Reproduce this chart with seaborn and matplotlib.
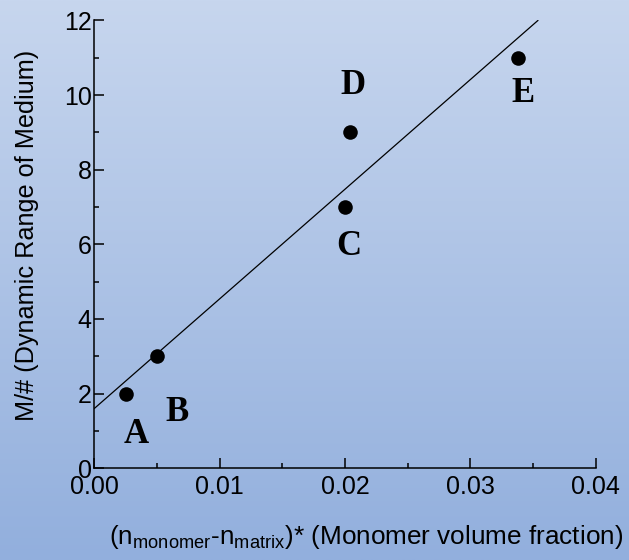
import numpy as np
import pandas as pd
import matplotlib

matplotlib.use("Agg")
import matplotlib.pyplot as plt
import seaborn as sns
from matplotlib.colors import LinearSegmentedColormap
from matplotlib.ticker import MultipleLocator

# datos
muestras = ["A", "B", "C", "D", "E"]
delta_n = [0.0025, 0.0050, 0.0200, 0.0204, 0.0338]
m_numero = [2, 3, 7, 9, 11]

# recta de ajuste (extremos)
ajuste_x = [0.0, 0.0354]
ajuste_y = [1.6, 12.0]

# posicion de las letras
letra_x = [0.0033, 0.0066, 0.0203, 0.0206, 0.0342]
letra_y = [0.9, 1.48, 5.95, 10.25, 10.04]

x_ticks = [0.00, 0.01, 0.02, 0.03, 0.04]
y_ticks = [0, 2, 4, 6, 8, 10, 12]

sns.set_style("ticks")
plt.rcParams["font.family"] = ["Liberation Sans", "DejaVu Sans"]
plt.rcParams["mathtext.fontset"] = "custom"
plt.rcParams["mathtext.rm"] = "Liberation Sans"
plt.rcParams["text.color"] = "black"
plt.rcParams["axes.labelcolor"] = "black"
plt.rcParams["xtick.color"] = "black"
plt.rcParams["ytick.color"] = "black"

fig = plt.figure(figsize=(6.29, 5.6), dpi=100)

# fondo degradado
fondo = fig.add_axes([0, 0, 1, 1], zorder=-10)
cmap = LinearSegmentedColormap.from_list("fondo", ["#c7d6ee", "#92afdd"])
fondo.imshow(np.linspace(0, 1, 256).reshape(-1, 1), aspect="auto", cmap=cmap,
             extent=[0, 1, 0, 1])
fondo.axis("off")

ax = fig.add_axes([0.150, 0.164, 0.797, 0.7996])
ax.patch.set_alpha(0)

df = pd.DataFrame({"x": delta_n, "y": m_numero, "muestra": muestras})
linea = pd.DataFrame({"x": ajuste_x, "y": ajuste_y})

sns.lineplot(data=linea, x="x", y="y", color="black", linewidth=0.9, ax=ax)
sns.scatterplot(data=df, x="x", y="y", color="black", s=110, edgecolor="black",
                linewidth=0, ax=ax, zorder=3, clip_on=False)

for letra, lx, ly in zip(muestras, letra_x, letra_y):
    ax.text(lx, ly, letra, ha="center", va="center", fontsize=25,
            fontweight="bold", family="Liberation Serif", color="black")

ax.set_xlim(0, 0.04)
ax.set_ylim(0, 12)
ax.set_xticks(x_ticks)
ax.set_xticklabels([f"{v:.2f}" for v in x_ticks])
ax.set_yticks(y_ticks)
ax.xaxis.set_minor_locator(MultipleLocator(0.005))
ax.yaxis.set_minor_locator(MultipleLocator(1))
ax.tick_params(which="major", direction="in", length=7, width=1.1,
               labelsize=18)
ax.tick_params(axis="x", which="major", pad=5)
ax.tick_params(axis="y", which="major", pad=2)
ax.tick_params(which="minor", direction="in", length=3.5, width=1.1)

for lado in ["top", "right"]:
    ax.spines[lado].set_visible(False)
for lado in ["left", "bottom"]:
    ax.spines[lado].set_linewidth(1.1)
    ax.spines[lado].set_color("black")

ax.set_ylabel("M/# (Dynamic Range of Medium)", fontsize=18.2)
ax.yaxis.set_label_coords(-0.110, 0.52)
ax.set_xlabel(r"(n$_{\mathregular{monomer}}$-n$_{\mathregular{matrix}}$)* (Monomer volume fraction)",
              fontsize=18.8)
ax.xaxis.set_label_coords(0.542, -0.122)

fig.savefig("out.png", dpi=100)
plt.close()
